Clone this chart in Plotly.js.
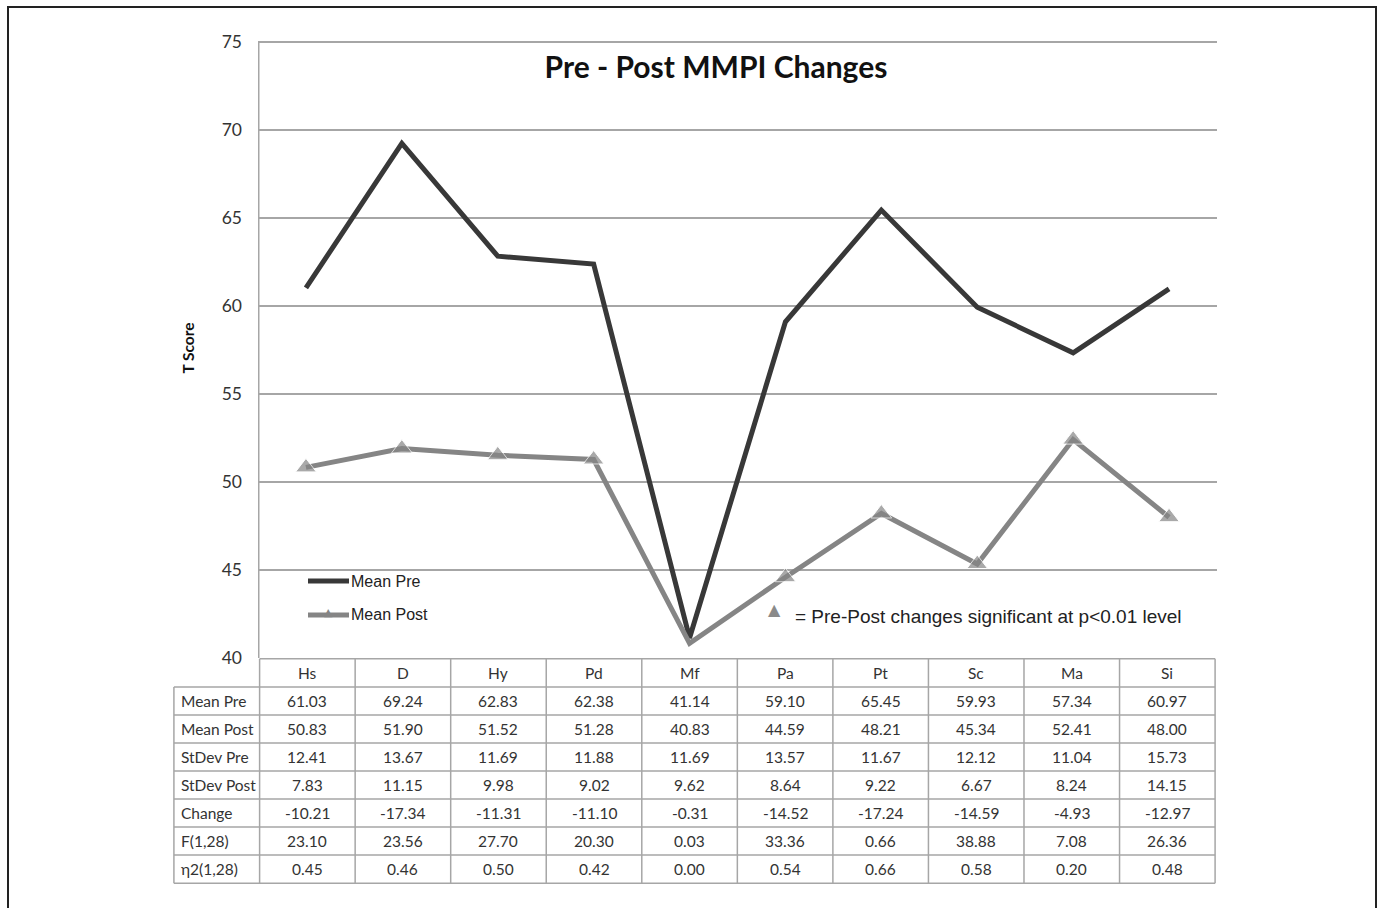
<!DOCTYPE html>
<html>
<head>
<meta charset="utf-8">
<script src="https://cdn.plot.ly/plotly-3.0.1.min.js"></script>
<style>html,body{margin:0;padding:0;background:#fff;}#chart{width:1381px;height:908px;}</style>
</head>
<body>
<div id="chart"></div>
<script>
// ---- data ----
const scales = ["Hs","D","Hy","Pd","Mf","Pa","Pt","Sc","Ma","Si"];
const meanPre  = [61.03,69.24,62.83,62.38,41.14,59.10,65.45,59.93,57.34,60.97];
const meanPost = [50.83,51.90,51.52,51.28,40.83,44.59,48.21,45.34,52.41,48.00];
const stdevPre = [12.41,13.67,11.69,11.88,11.69,13.57,11.67,12.12,11.04,15.73];
const stdevPost= [7.83,11.15,9.98,9.02,9.62,8.64,9.22,6.67,8.24,14.15];
const change   = [-10.21,-17.34,-11.31,-11.10,-0.31,-14.52,-17.24,-14.59,-4.93,-12.97];
const fValue   = [23.10,23.56,27.70,20.30,0.03,33.36,0.66,38.88,7.08,26.36];
const eta2     = [0.45,0.46,0.50,0.42,0.00,0.54,0.66,0.58,0.20,0.48];
const significant = [true,true,true,true,false,true,true,true,true,true];
const rowLabels = ["Mean Pre","Mean Post","StDev Pre","StDev Post","Change","F(1,28)","η2(1,28)"];
const rowData = [meanPre,meanPost,stdevPre,stdevPost,change,fValue,eta2];
const yTicks = [40,45,50,55,60,65,70,75];

// ---- geometry helpers ----
const W = 1381, H = 908;
const mL = 172, mR = 164, mT = 38, mB = 24;
const pw = W - mL - mR, ph = H - mT - mB;
const px = v => (v - mL) / pw;           // pixel -> paper x
const py = v => (H - mB - v) / ph;       // pixel -> paper y
const mainBottom = 658, mainTopTick = 42;
const splitY = py(mainBottom);
const yMin = 40, yMax = 75;
const yTopPad = (mainTopTick - mT) * (yMax - yMin) / (mainBottom - mainTopTick);
const labelColW = 86 / 95.9;             // label column width in category units
const x2min = -0.5 - labelColW;

const gridCol = "#a6a6a6";
const textCol = "#333333";
const tableFont = "Lato, 'Open Sans', sans-serif";
const arial = "'Liberation Sans', Arial, sans-serif";

const traces = [
  {x: scales.map((_, i) => i), y: meanPre, type: "scatter", mode: "lines",
   line: {color: "#383838", width: 5}, xaxis: "x", yaxis: "y", showlegend: false, hoverinfo: "skip"},
  {x: scales.map((_, i) => i), y: meanPost, type: "scatter", mode: "lines+markers",
   line: {color: "#858585", width: 5},
   marker: {symbol: "triangle-up", color: "#858585", size: significant.map(s => s ? 18 : 0)},
   xaxis: "x", yaxis: "y", showlegend: false, hoverinfo: "skip"}
];

const shapes = [];
const annotations = [];

// table grid lines (x2/y2)
const nRows = rowLabels.length;
shapes.push({type: "line", xref: "x2", yref: "y2", x0: -0.5, x1: scales.length - 0.5, y0: -0.5, y1: -0.5, line: {color: gridCol, width: 1.5}});
for (let r = 1; r <= nRows + 1; r++) {
  shapes.push({type: "line", xref: "x2", yref: "y2", x0: x2min, x1: scales.length - 0.5, y0: r - 0.5, y1: r - 0.5, line: {color: gridCol, width: 1.5}});
}
shapes.push({type: "line", xref: "x2", yref: "y2", x0: x2min, x1: x2min, y0: 0.5, y1: nRows + 0.5, line: {color: gridCol, width: 1.5}});
for (let c = 0; c <= scales.length; c++) {
  shapes.push({type: "line", xref: "x2", yref: "y2", x0: c - 0.5, x1: c - 0.5, y0: -0.5, y1: nRows + 0.5, line: {color: gridCol, width: 1.5}});
}
const cellFont = {family: tableFont, size: 15.5, color: textCol};
scales.forEach((s, i) => annotations.push({xref: "x2", yref: "y2", x: i, y: 0, text: s, showarrow: false,
  xanchor: "center", yanchor: "middle", font: cellFont}));
rowLabels.forEach((lab, r) => {
  annotations.push({xref: "x2", yref: "y2", x: x2min + 0.05, y: r + 1, text: lab, showarrow: false,
    xanchor: "left", yanchor: "middle", font: cellFont});
  rowData[r].forEach((v, i) => annotations.push({xref: "x2", yref: "y2", x: i, y: r + 1, text: v.toFixed(2), showarrow: false,
    xanchor: "center", yanchor: "middle", font: cellFont}));
});

// manual legend
shapes.push({type: "line", xref: "paper", yref: "paper", x0: px(308), x1: px(349), y0: py(581), y1: py(581), line: {color: "#383838", width: 5}});
shapes.push({type: "line", xref: "paper", yref: "paper", x0: px(308), x1: px(349), y0: py(615), y1: py(615), line: {color: "#858585", width: 5}});
annotations.push({xref: "paper", yref: "paper", x: px(328), y: py(612), text: "▲", showarrow: false,
  xanchor: "center", yanchor: "middle", font: {family: "DejaVu Sans", size: 11, color: "#858585"}});
annotations.push({xref: "paper", yref: "paper", x: px(349), y: py(581), text: "Mean Pre", showarrow: false,
  xanchor: "left", yanchor: "middle", font: {family: arial, size: 16, color: "#222"}});
annotations.push({xref: "paper", yref: "paper", x: px(349), y: py(615), text: "Mean Post", showarrow: false,
  xanchor: "left", yanchor: "middle", font: {family: arial, size: 16, color: "#222"}});
// significance note
annotations.push({xref: "paper", yref: "paper", x: px(774), y: py(609), text: "▲", showarrow: false,
  xanchor: "center", yanchor: "middle", font: {family: "DejaVu Sans", size: 16, color: "#8a8a8a"}});
annotations.push({xref: "paper", yref: "paper", x: px(793), y: py(616), text: "= Pre-Post changes significant at p<0.01 level", showarrow: false,
  xanchor: "left", yanchor: "middle", font: {family: arial, size: 19, color: "#222"}});

// outer frame
shapes.push({type: "rect", xref: "paper", yref: "paper", x0: px(8), x1: px(1376), y0: py(7), y1: py(960),
  line: {color: "#222", width: 2}, fillcolor: "rgba(0,0,0,0)"});

const layout = {
  width: W, height: H,
  margin: {l: mL, r: mR, t: mT, b: mB},
  paper_bgcolor: "#fff", plot_bgcolor: "rgba(0,0,0,0)",
  showlegend: false,
  title: {text: "Pre - Post MMPI Changes", xref: "container", yref: "container", x: 716 / W, y: 1 - 67 / H,
    xanchor: "center", yanchor: "middle", font: {family: "Lato, sans-serif", size: 30, weight: "bold", color: "#111"}},
  xaxis: {domain: [px(258), 1], range: [-0.5, scales.length - 0.5], showgrid: false, zeroline: false,
    showticklabels: false, ticks: "", showline: false, anchor: "y", fixedrange: true},
  yaxis: {domain: [splitY, 1], range: [yMin, yMax + yTopPad], tickvals: yTicks, ticktext: yTicks.map(String),
    showgrid: true, gridcolor: gridCol, gridwidth: 1.5, zeroline: false, showline: false,
    ticks: "", ticklabelstandoff: 15, tickfont: {family: tableFont, size: 17.5, color: "#333"},
    title: {text: "T Score", standoff: 23, font: {family: tableFont, size: 15.5, weight: "bold", color: "#111"}}, anchor: "x"},
  xaxis2: {domain: [0, 1], range: [x2min - 0.02, scales.length - 0.5 + 0.02], visible: false, anchor: "y2", fixedrange: true},
  yaxis2: {domain: [0, splitY], range: [nRows + 0.53, -0.53], visible: false, anchor: "x2", fixedrange: true},
  shapes: shapes.concat([
    // y-axis line from the lowest to the highest tick, drawn on the main axes
    {type: "line", xref: "x", yref: "y", x0: -0.5, x1: -0.5, y0: yMin, y1: yMax, line: {color: gridCol, width: 3}}
  ]),
  annotations: annotations
};

Plotly.newPlot("chart", traces, layout, {displayModeBar: false, staticPlot: true});
</script>
</body>
</html>
